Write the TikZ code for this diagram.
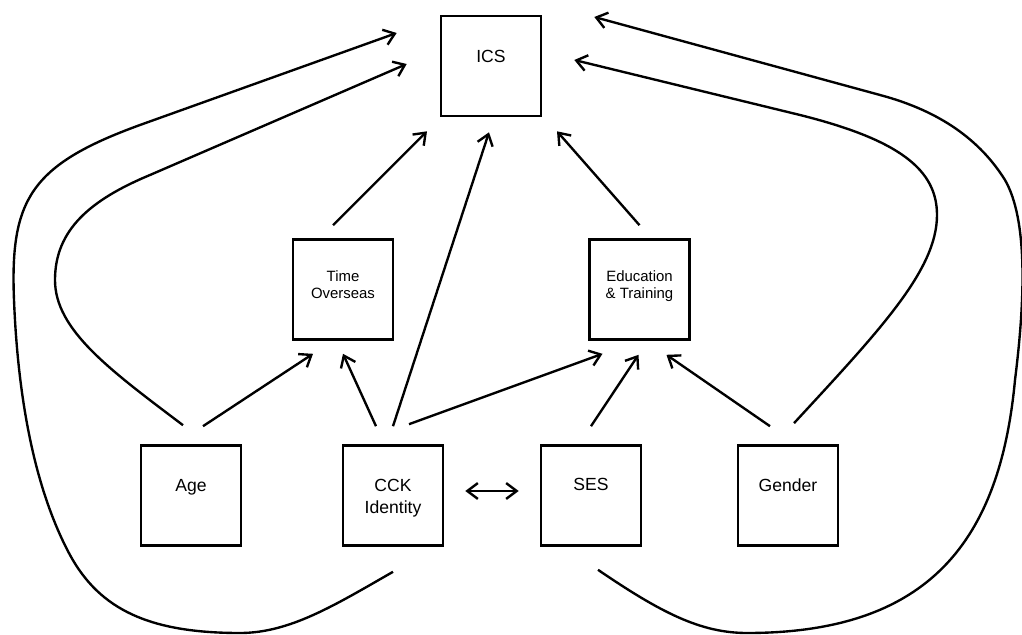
\documentclass[tikz,border=0pt]{standalone}
\usepackage{fontspec}
\setmainfont{Liberation Sans}
\usetikzlibrary{arrows.meta,calc}
\begin{document}
\begin{tikzpicture}[x=0.02cm,y=-0.02cm,
  box/.style={draw, line width=1.5pt, minimum width=2cm, minimum height=2cm, inner sep=0pt},
  lbl/.style={anchor=north, inner sep=0pt, align=center, font=\fontsize{10}{12.5}\selectfont},
  small/.style={font=\fontsize{8.5}{9.6}\selectfont},
  tip/.style={Straight Barb[length=6pt,width=9pt]},
  link/.style={line width=1.35pt, -{Straight Barb[length=6pt,width=9pt]}},
  dlink/.style={line width=1.35pt, {Straight Barb[length=6pt,width=9pt]}-{Straight Barb[length=6pt,width=9pt]}}
]
\useasboundingbox (0,0) rectangle (1022,635);

% boxes
\node[box] (ics) at (491,66) {};
\node[box] (time) at (343,289.5) {};
\node[box] (edu) at (639.5,289.5) {};
\node[box] (age) at (191,495.5) {};
\node[box] (cck) at (393,495.5) {};
\node[box] (ses) at (591,495.5) {};
\node[box] (gender) at (788,495.5) {};

% labels
\node[lbl] (ics-t) at ($(ics.north)+(0,35)$) {ICS};
\node[lbl,small] (time-t) at ($(time.north)+(0,32)$) {Time\\Overseas};
\node[lbl,small] (edu-t) at ($(edu.north)+(0,32)$) {Education\\\& Training};
\node[lbl] (age-t) at ($(age.north)+(0,35)$) {Age};
\node[lbl] (cck-t) at ($(cck.north)+(0,35)$) {CCK\\Identity};
\node[lbl] (ses-t) at ($(ses.north)+(0,34)$) {SES};
\node[lbl] (gender-t) at ($(gender.north)+(0,34)$) {Gender};

% straight paths
\draw[link] ($(age.north)+(12,-18)$) -- ($(time.south)+(-30,13)$);
\draw[link] ($(cck.north)+(-17,-18)$) -- ($(time.south)+(0,13)$);
\draw[link] ($(cck.north)+(0,-18)$) -- ($(ics.south)+(-2,15)$);
\draw[link] ($(cck.north)+(16,-20)$) -- ($(edu.south)+(-37,13)$);
\draw[link] ($(ses.north)+(0,-18)$) -- ($(edu.south)+(-1,14)$);
\draw[link] ($(gender.north)+(-18,-18)$) -- ($(edu.south)+(27,14)$);
\draw[link] ($(time.north)+(-10,-13)$) -- ($(ics.south)+(-64,14)$);
\draw[link] ($(edu.north)+(0,-13)$) -- ($(ics.south)+(66,14)$);
\draw[dlink] ($(cck.east)+(21,-4.5)$) -- ($(ses.west)+(-21,-4.5)$);

% curved paths into ICS
\draw[link] ($(age.north)+(-8,-19)$) .. controls (110,370) and (55,330) .. (55,280)
  .. controls (55,230) and (90,200) .. (150,175) -- ($(ics.west)+(-33,-2)$);
\draw[link] ($(cck.south)+(0,25)$) .. controls (335,605) and (290,633) .. (240,633)
  .. controls (150,633) and (100,610) .. (70,555)
  .. controls (35,490) and (18,400) .. (14,300)
  .. controls (10,200) and (30,165) .. (140,125) -- ($(ics.west)+(-43,-33)$);
\draw[link] ($(gender.north)+(6,-21)$) .. controls (880,330) and (937,270) .. (937,215)
  .. controls (937,170) and (900,140) .. (800,115) -- ($(ics.east)+(32,-6)$);
\draw[link] ($(ses.south)+(7,23)$) .. controls (660,612) and (700,633) .. (747,633)
  .. controls (930,633) and (1000,540) .. (1015,380)
  .. controls (1025,300) and (1028,220) .. (1005,180)
  .. controls (980,140) and (940,111) .. (880,95) -- ($(ics.east)+(52,-49)$);
\end{tikzpicture}
\end{document}
